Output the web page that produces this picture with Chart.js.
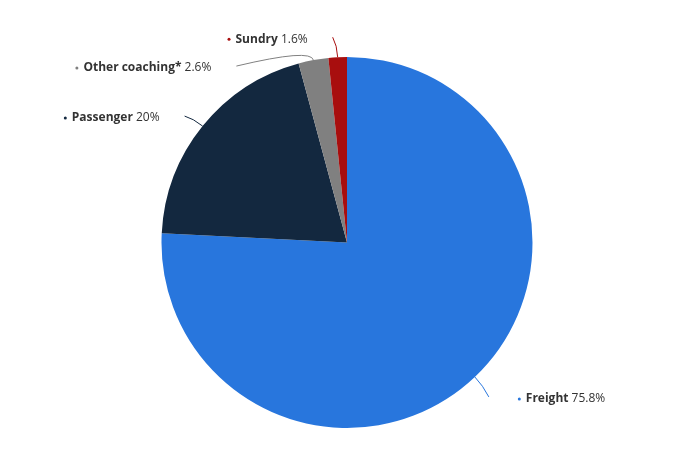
<!DOCTYPE html>
<html>
<head>
<meta charset="utf-8">
<script src="https://cdn.jsdelivr.net/npm/chart.js@4"></script>
<style>
  html, body { margin: 0; padding: 0; background: #fff; }
  #wrap { width: 678px; height: 457px; }
</style>
</head>
<body>
<div id="wrap"><canvas id="grafico" width="678" height="457"></canvas></div>
<script>
// Datos del gráfico
const categorias = ['Freight', 'Passenger', 'Other coaching*', 'Sundry'];
const valores = [75.8, 20, 2.6, 1.6];
const etiquetas = ['75.8%', '20%', '2.6%', '1.6%'];
const colores = ['#2876DD', '#13283F', '#808080', '#A80E0E'];

// Final del conector relativo al punto del sector (estilo)
const conectores = [[14, 20], [-18, -10], [-77, 6], [-5, -20]];

const pluginEtiquetas = {
    id: 'etiquetas',
    afterDatasetsDraw(chart) {
        const ctx = chart.ctx;
        const meta = chart.getDatasetMeta(0);
        meta.data.forEach(function(arc, i) {
            const p = arc.getProps(['x', 'y', 'startAngle', 'endAngle', 'outerRadius']);
            const ang = (p.startAngle + p.endAngle) / 2;
            const x0 = p.x + Math.cos(ang) * p.outerRadius;
            const y0 = p.y + Math.sin(ang) * p.outerRadius;
            const x1 = x0 + conectores[i][0];
            const y1 = y0 + conectores[i][1];
            const cx = x0 + Math.cos(ang) * 12;
            const cy = y0 + Math.sin(ang) * 12;

            ctx.save();
            ctx.strokeStyle = colores[i];
            ctx.lineWidth = 1;
            ctx.beginPath();
            ctx.moveTo(x0, y0);
            ctx.quadraticCurveTo(cx, cy, x1, y1);
            ctx.stroke();

            const derecha = x1 > p.x;
            ctx.font = 'bold 12px "Open Sans"';
            const wNombre = ctx.measureText(categorias[i] + ' ').width;
            ctx.font = '12px "Open Sans"';
            const wValor = ctx.measureText(etiquetas[i]).width;
            const total = 8 + wNombre + wValor;
            let tx = derecha ? x1 + 29 : x1 - 25 - total;
            const ty = y1 + 2;

            ctx.fillStyle = colores[i];
            ctx.beginPath();
            ctx.arc(tx + 1.5, ty, 1.5, 0, Math.PI * 2);
            ctx.fill();

            ctx.textBaseline = 'middle';
            ctx.fillStyle = '#333333';
            ctx.font = 'bold 12px "Open Sans"';
            ctx.fillText(categorias[i] + ' ', tx + 8, ty);
            ctx.font = '12px "Open Sans"';
            ctx.fillText(etiquetas[i], tx + 8 + wNombre, ty);
            ctx.restore();
        });
    }
};

new Chart(document.getElementById('grafico'), {
    type: 'pie',
    data: {
        labels: categorias,
        datasets: [{
            data: valores,
            backgroundColor: colores,
            borderWidth: 0
        }]
    },
    options: {
        responsive: false,
        animation: false,
        layout: { padding: { top: 57, bottom: 29, left: 100, right: 84 } },
        plugins: {
            legend: { display: false },
            tooltip: { enabled: false }
        }
    },
    plugins: [pluginEtiquetas]
});
</script>
</body>
</html>
